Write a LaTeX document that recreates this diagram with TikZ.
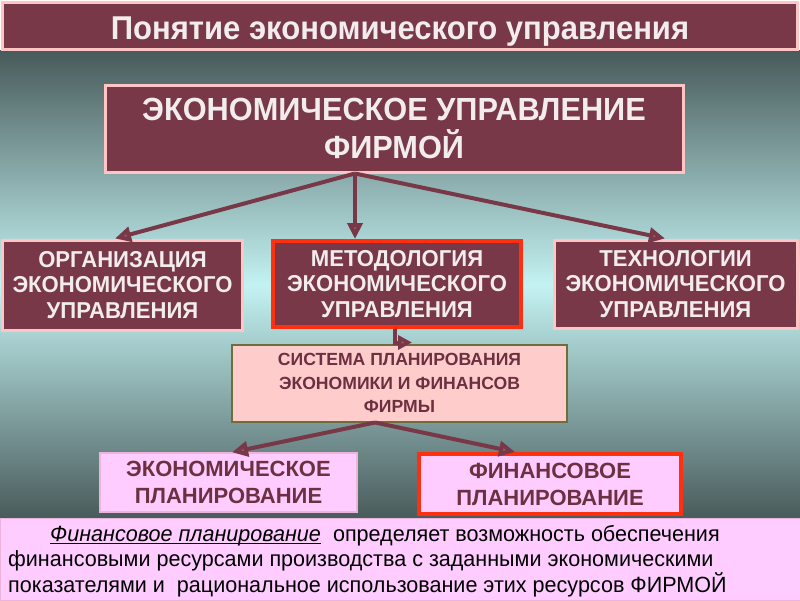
\documentclass[tikz,border=0pt]{standalone}
\usepackage{fontspec}
\setmainfont{Liberation Sans}
\newfontfamily\narA[FakeStretch=0.94]{Liberation Sans}
\newfontfamily\narB[FakeStretch=0.96]{Liberation Sans}
\newfontfamily\narC[FakeStretch=0.98]{Liberation Sans}
\usetikzlibrary{arrows.meta}
\newcommand\myul[1]{\setbox0=\hbox{#1}\rlap{\rule[-3pt]{\wd0}{1.2pt}}\box0}
\definecolor{maroon}{RGB}{120,56,72}
\definecolor{pinkb}{RGB}{255,196,196}
\definecolor{redb}{RGB}{255,48,16}
\definecolor{sysfill}{RGB}{255,204,204}
\definecolor{sysdraw}{RGB}{110,110,60}
\definecolor{lilac}{RGB}{255,204,255}
\definecolor{lilacb}{RGB}{236,180,220}
\definecolor{dtext}{RGB}{108,48,64}
\definecolor{wtext}{RGB}{242,236,236}
\definecolor{bgdark}{RGB}{72,90,90}
\definecolor{bglight}{RGB}{196,242,242}
\tikzset{
  mbox/.style={draw=pinkb, fill=maroon, line width=3pt, text=wtext, font=\narB\bfseries\fontsize{23}{25.5}\selectfont, align=center, inner sep=0pt},
  redbox/.style={mbox, draw=redb, line width=4pt},
  sysbox/.style={draw=sysdraw, fill=sysfill, line width=2pt, text=dtext, font=\bfseries\fontsize{17.6}{23.5}\selectfont, align=center, inner sep=0pt},
  planbox/.style={draw=lilacb, fill=lilac, line width=1.5pt, text=dtext, font=\bfseries\fontsize{22}{27}\selectfont, align=center, inner sep=0pt},
  conn/.style={draw=maroon, line width=4pt, -{Triangle[length=16pt,width=15pt,fill=maroon!80!white]}},
}
\begin{document}
\begin{tikzpicture}[x=1pt,y=-1pt]
\useasboundingbox (0,0) rectangle (800,600);
% background
\shade[top color=bgdark, bottom color=bglight] (0,50) rectangle (800,285);
\shade[top color=bglight, bottom color=bgdark] (0,285) rectangle (800,520);
% header
\node[draw=pinkb, fill=maroon, line width=3pt, minimum width=795pt, minimum height=47pt, text=wtext, font=\narA\bfseries\fontsize{33}{36}\selectfont, inner sep=0pt, text height=26pt, text depth=0pt] (title) at (400,26) {Понятие экономического управления};
% main
\node[mbox, font=\narB\bfseries\fontsize{32}{38}\selectfont, minimum width=578pt, minimum height=87pt] (main) at (394,128.5) {ЭКОНОМИЧЕСКОЕ УПРАВЛЕНИЕ\\ФИРМОЙ};
% second row
\node[mbox, minimum width=240pt, minimum height=90pt] (org) at (122.5,285) {ОРГАНИЗАЦИЯ\\ЭКОНОМИЧЕСКОГО\\УПРАВЛЕНИЯ};
\node[redbox, minimum width=248pt, minimum height=86pt] (met) at (397,284) {МЕТОДОЛОГИЯ\\ЭКОНОМИЧЕСКОГО\\УПРАВЛЕНИЯ};
\node[mbox, minimum width=243pt, minimum height=88pt] (tech) at (675.5,284) {ТЕХНОЛОГИИ\\ЭКОНОМИЧЕСКОГО\\УПРАВЛЕНИЯ};
% system
\node[sysbox, minimum width=335pt, minimum height=77pt] (sys) at (399.5,383) {СИСТЕМА ПЛАНИРОВАНИЯ\\ЭКОНОМИКИ И ФИНАНСОВ\\ФИРМЫ};
% planning
\node[planbox, minimum width=257pt, minimum height=59pt] (eco) at (228.5,482.5) {ЭКОНОМИЧЕСКОЕ\\ПЛАНИРОВАНИЕ};
\node[planbox, draw=redb, line width=4pt, minimum width=262pt, minimum height=60pt] (fin) at (550,484) {ФИНАНСОВОЕ\\ПЛАНИРОВАНИЕ};
% bottom panel
\node[fill=lilac, draw=lilacb, line width=1pt, minimum width=800pt, minimum height=82pt, inner sep=0pt] (panel) at (400,559) {};
\node[anchor=north west, align=left, inner sep=0pt, font=\narC\fontsize{22}{25.5}\selectfont, text=black] (ptext) at (8,525)
 {\hspace*{42pt}\myul{\textit{Финансовое планирование}}\ \ определяет возможность обеспечения\\
  финансовыми ресурсами производства с заданными экономическими\\
  показателями и \ рациональное использование этих ресурсов ФИРМОЙ};
% connectors
\coordinate (hub) at (main.south -| 355,0);
\draw[conn] (hub) -- (org.north -| 115,0);
\draw[conn] (hub) -- (met.north -| 355,0);
\draw[conn] (hub) -- (tech.north -| 665,0);
\coordinate (mhub) at (met.south -| 395,0);
\coordinate (mend) at (sys.north -| 412,0);
\draw[conn, -{Triangle[length=14pt,width=14pt,fill=maroon!80!white]}] (mhub) |- ([yshift=1pt]mend);
\coordinate (shub) at (sys.south -| 375,0);
\draw[conn] (shub) -- (eco.north -| 232,0);
\draw[conn] (shub) -- (fin.north -| 515,0);
\end{tikzpicture}
\end{document}
